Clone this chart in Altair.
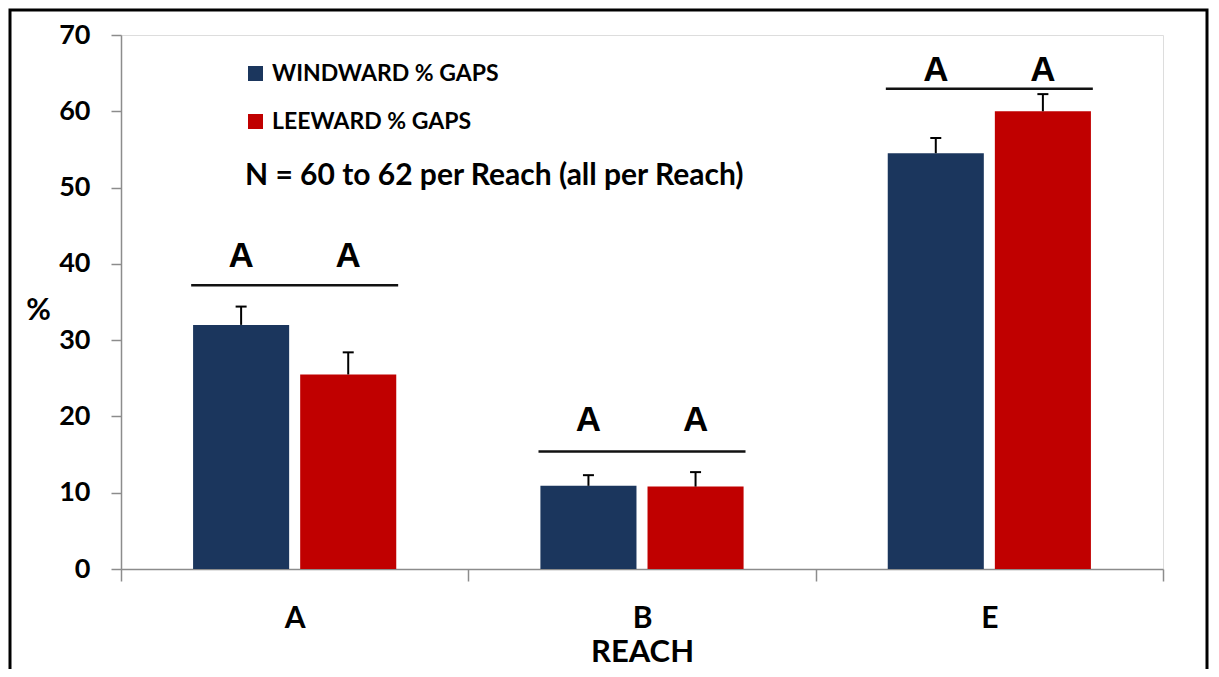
import altair as alt
import pandas as pd

# ---- data ----
reaches = ["A", "B", "E"]
series = ["WINDWARD % GAPS", "LEEWARD % GAPS"]
windward = [32.0, 10.9, 54.5]
leeward = [25.5, 10.8, 60.0]
windward_se = [2.4, 1.4, 2.0]
leeward_se = [2.9, 1.9, 2.25]
letters_windward = ["A", "A", "A"]
letters_leeward = ["A", "A", "A"]
letter_y = [41.0, 19.5, 65.4]
bracket_y = [37.2, 15.4, 62.95]
note_text = ["N = 60 to 62 per Reach (all per Reach)"]
note_y = [51.5]
colors = ["#1B365D", "#C00000"]
y_ticks = [0, 10, 20, 30, 40, 50, 60, 70]

rows = []
for i, r in enumerate(reaches):
    rows.append(dict(Reach=r, Series=series[0], Value=windward[i],
                     Upper=windward[i] + windward_se[i],
                     Letter=letters_windward[i], LetterY=letter_y[i]))
    rows.append(dict(Reach=r, Series=series[1], Value=leeward[i],
                     Upper=leeward[i] + leeward_se[i],
                     Letter=letters_leeward[i], LetterY=letter_y[i]))
df = pd.DataFrame(rows)
brackets = pd.DataFrame({"Reach": reaches, "Y": bracket_y})
notes = pd.DataFrame({"t": note_text, "y": note_y})

W, H = 1042, 534
FONT = "Lato"
AXIS_GRAY = "#8C8C8C"

x_axis = alt.Axis(title="REACH", labelAngle=0, labelFont=FONT, labelFontSize=30,
                  labelFontWeight="bold", labelColor="black", labelPadding=22,
                  tickSize=12, tickBand="extent", tickColor=AXIS_GRAY, tickWidth=1.5,
                  domainColor=AXIS_GRAY, domainWidth=1.5,
                  titleFont=FONT, titleFontSize=31, titleFontWeight="bold",
                  titleColor="black", titleY=83, titleBaseline="middle")
y_axis = alt.Axis(title="%", values=y_ticks, grid=False, labelFont=FONT,
                  labelFontSize=27, labelFontWeight="bold", labelColor="black",
                  labelPadding=21, tickSize=10, tickColor=AXIS_GRAY, tickWidth=1.5,
                  domainColor=AXIS_GRAY, domainWidth=1.5,
                  titleFont=FONT, titleFontSize=30, titleFontWeight="bold",
                  titleColor="black", titleAngle=0, titleX=-83, titleY=275,
                  titleAlign="center", titleBaseline="middle")

x = alt.X("Reach:N", sort=reaches, scale=alt.Scale(paddingInner=0, paddingOuter=0),
          axis=x_axis)
xoff = alt.XOffset("Series:N", sort=series,
                   scale=alt.Scale(paddingInner=0.103, paddingOuter=0.673))
yscale = alt.Scale(domain=[0, 70], nice=False)

def Y(field):
    return alt.Y(field, scale=yscale, axis=y_axis)

base = alt.Chart(df)

bars = base.mark_bar().encode(
    x=x, xOffset=xoff, y=Y("Value:Q"),
    color=alt.Color("Series:N", sort=series,
                    scale=alt.Scale(domain=series, range=colors),
                    legend=alt.Legend(title=None, orient="none", legendX=123, legendY=27,
                                      symbolType="square", symbolSize=225,
                                      symbolStrokeWidth=0, labelFont=FONT,
                                      labelFontSize=23, labelFontWeight="bold",
                                      labelColor="black", labelOffset=5,
                                      labelLimit=0, rowPadding=24)),
)

err = base.mark_rule(color="black", strokeWidth=2).encode(
    x=x, xOffset=xoff, y=Y("Value:Q"), y2="Upper:Q")

caps = base.mark_tick(color="black", thickness=2, size=11, orient="horizontal",
                      opacity=1).encode(
    x=x, xOffset=xoff, y=Y("Upper:Q"))

letters = base.mark_text(font="Liberation Sans", fontWeight="bold", fontSize=35,
                         baseline="middle", color="black").encode(
    x=x, xOffset=xoff, y=Y("LetterY:Q"), text="Letter:N")

bracket = alt.Chart(brackets).mark_tick(color="#111111", thickness=2.5, size=207,
                                        orient="horizontal", opacity=1).encode(
    x=x, y=Y("Y:Q"))

note = alt.Chart(notes).mark_text(align="left", baseline="middle", font=FONT,
                                  fontSize=30, fontWeight="bold", color="black").encode(
    x=alt.value(124), y=Y("y:Q"), text="t:N")

frame = alt.Chart(pd.DataFrame({"k": [0]})).mark_rect(
    filled=False, stroke="black", strokeWidth=3).encode(
    x=alt.value(-111), x2=alt.value(1086), y=alt.value(-25), y2=alt.value(H + 300))

chart = alt.layer(bars, err, caps, letters, bracket, note, frame).properties(
    width=W, height=H,
    padding={"left": 113, "top": 27, "right": 48, "bottom": 100},
    autosize=alt.AutoSizeParams(type="none"),
).configure_view(stroke=None).configure(background="white")

chart.save("out.html", embed_options={"renderer": "svg", "actions": False})
